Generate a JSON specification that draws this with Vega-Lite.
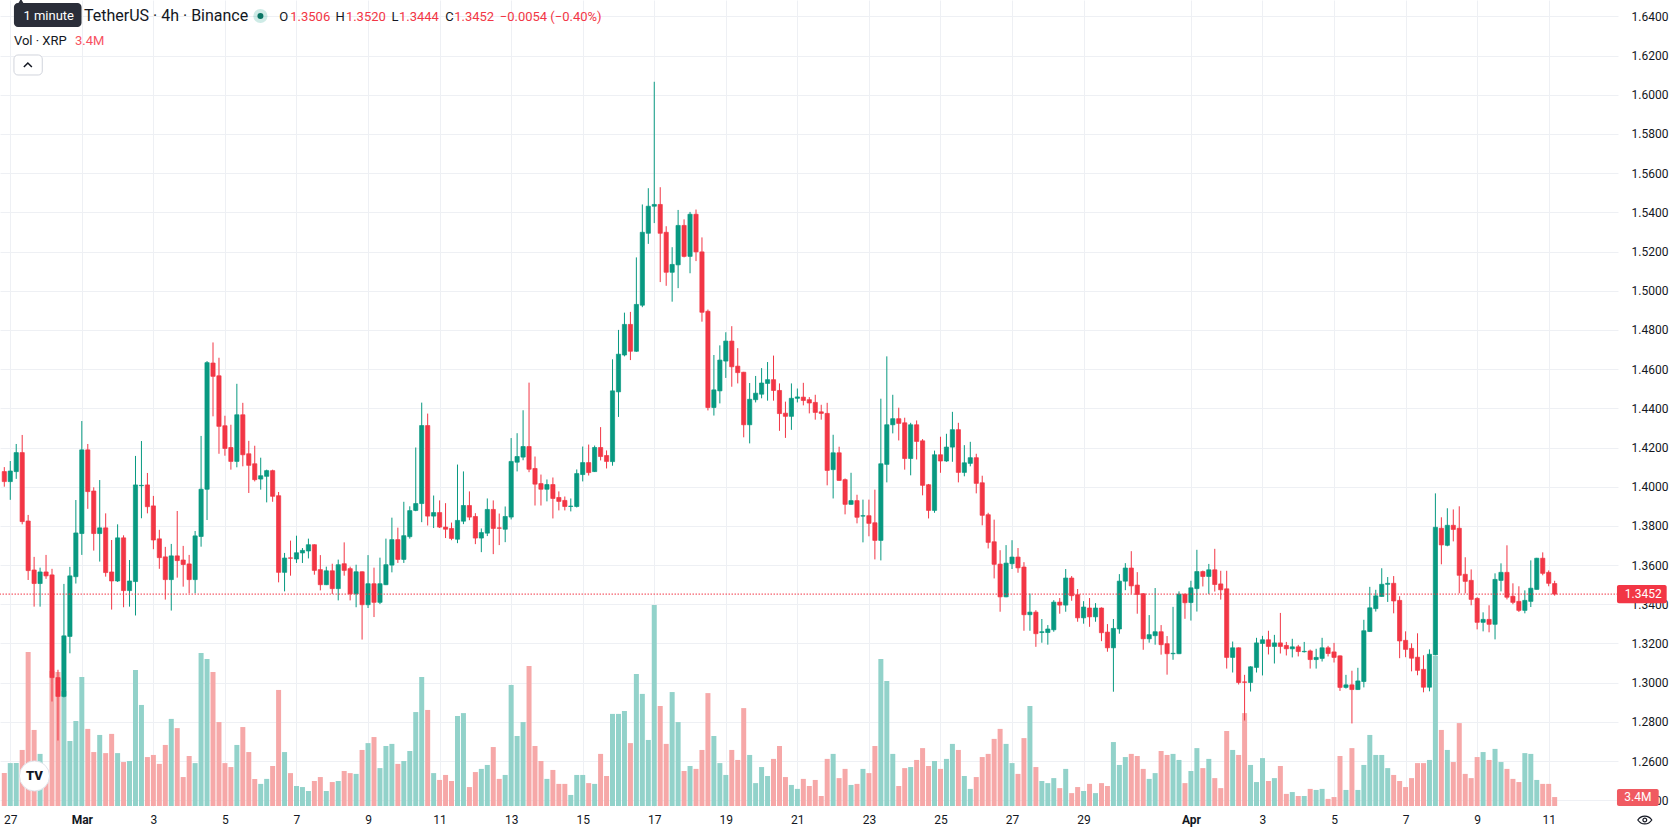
{
"$schema": "https://vega.github.io/schema/vega-lite/v6.json",
"width": 1618,
"height": 806,
"autosize": {"type": "none"},
"padding": {"left": 0, "top": 0, "right": 60, "bottom": 29},
"background": "#ffffff",
"config": {"view": {"stroke": null}, "font": "Roboto"},
"datasets": {"candles": [
{"t":"2026-02-26T20:00Z","o":1.4077,"h":1.4100,"l":1.4000,"c":1.4026,"v":12.5},
{"t":"2026-02-27T00:00Z","o":1.4026,"h":1.4131,"l":1.3933,"c":1.4080,"v":16.3},
{"t":"2026-02-27T04:00Z","o":1.4077,"h":1.4218,"l":1.4040,"c":1.4174,"v":16.3},
{"t":"2026-02-27T08:00Z","o":1.4174,"h":1.4264,"l":1.3808,"c":1.3822,"v":21.3},
{"t":"2026-02-27T12:00Z","o":1.3825,"h":1.3856,"l":1.3524,"c":1.3572,"v":58.5},
{"t":"2026-02-27T16:00Z","o":1.3575,"h":1.3642,"l":1.3388,"c":1.3506,"v":28.9},
{"t":"2026-02-27T20:00Z","o":1.3506,"h":1.3587,"l":1.3388,"c":1.3565,"v":19.8},
{"t":"2026-02-28T00:00Z","o":1.3565,"h":1.3652,"l":1.3530,"c":1.3545,"v":13.3},
{"t":"2026-02-28T04:00Z","o":1.3550,"h":1.3581,"l":1.2904,"c":1.3026,"v":51.3},
{"t":"2026-02-28T08:00Z","o":1.3026,"h":1.3066,"l":1.2705,"c":1.2930,"v":50.9},
{"t":"2026-02-28T12:00Z","o":1.2930,"h":1.3504,"l":1.2925,"c":1.3239,"v":43.7},
{"t":"2026-02-28T16:00Z","o":1.3236,"h":1.3591,"l":1.3150,"c":1.3545,"v":24.7},
{"t":"2026-02-28T20:00Z","o":1.3541,"h":1.3932,"l":1.3506,"c":1.3764,"v":32.3},
{"t":"2026-03-01T00:00Z","o":1.3761,"h":1.4335,"l":1.3652,"c":1.4188,"v":49.0},
{"t":"2026-03-01T04:00Z","o":1.4188,"h":1.4218,"l":1.3887,"c":1.3975,"v":29.3},
{"t":"2026-03-01T08:00Z","o":1.3978,"h":1.3997,"l":1.3674,"c":1.3761,"v":20.5},
{"t":"2026-03-01T12:00Z","o":1.3761,"h":1.4034,"l":1.3618,"c":1.3790,"v":27.0},
{"t":"2026-03-01T16:00Z","o":1.3790,"h":1.3864,"l":1.3541,"c":1.3562,"v":20.1},
{"t":"2026-03-01T20:00Z","o":1.3565,"h":1.3728,"l":1.3373,"c":1.3519,"v":27.4},
{"t":"2026-03-02T00:00Z","o":1.3519,"h":1.3808,"l":1.3514,"c":1.3739,"v":20.1},
{"t":"2026-03-02T04:00Z","o":1.3739,"h":1.3752,"l":1.3385,"c":1.3470,"v":16.7},
{"t":"2026-03-02T08:00Z","o":1.3470,"h":1.3626,"l":1.3388,"c":1.3519,"v":17.1},
{"t":"2026-03-02T12:00Z","o":1.3516,"h":1.4157,"l":1.3343,"c":1.4009,"v":51.7},
{"t":"2026-03-02T16:00Z","o":1.4005,"h":1.4233,"l":1.3839,"c":1.4007,"v":38.4},
{"t":"2026-03-02T20:00Z","o":1.4009,"h":1.4070,"l":1.3864,"c":1.3898,"v":18.6},
{"t":"2026-03-03T00:00Z","o":1.3902,"h":1.3953,"l":1.3681,"c":1.3728,"v":19.4},
{"t":"2026-03-03T04:00Z","o":1.3734,"h":1.3780,"l":1.3581,"c":1.3638,"v":16.0},
{"t":"2026-03-03T08:00Z","o":1.3642,"h":1.3693,"l":1.3424,"c":1.3526,"v":23.2},
{"t":"2026-03-03T12:00Z","o":1.3526,"h":1.3708,"l":1.3368,"c":1.3647,"v":33.1},
{"t":"2026-03-03T16:00Z","o":1.3647,"h":1.3876,"l":1.3536,"c":1.3623,"v":29.6},
{"t":"2026-03-03T20:00Z","o":1.3626,"h":1.3698,"l":1.3490,"c":1.3603,"v":11.0},
{"t":"2026-03-04T00:00Z","o":1.3606,"h":1.3652,"l":1.3456,"c":1.3526,"v":19.0},
{"t":"2026-03-04T04:00Z","o":1.3526,"h":1.3774,"l":1.3456,"c":1.3749,"v":16.3},
{"t":"2026-03-04T08:00Z","o":1.3746,"h":1.4259,"l":1.3694,"c":1.3987,"v":58.1},
{"t":"2026-03-04T12:00Z","o":1.3987,"h":1.4641,"l":1.3830,"c":1.4633,"v":55.9},
{"t":"2026-03-04T16:00Z","o":1.4631,"h":1.4736,"l":1.4359,"c":1.4563,"v":50.9},
{"t":"2026-03-04T20:00Z","o":1.4566,"h":1.4658,"l":1.4168,"c":1.4308,"v":31.9},
{"t":"2026-03-05T00:00Z","o":1.4311,"h":1.4362,"l":1.4158,"c":1.4195,"v":16.3},
{"t":"2026-03-05T04:00Z","o":1.4200,"h":1.4316,"l":1.4087,"c":1.4129,"v":14.8},
{"t":"2026-03-05T08:00Z","o":1.4129,"h":1.4525,"l":1.4099,"c":1.4367,"v":23.2},
{"t":"2026-03-05T12:00Z","o":1.4367,"h":1.4428,"l":1.4104,"c":1.4163,"v":30.0},
{"t":"2026-03-05T16:00Z","o":1.4168,"h":1.4234,"l":1.3968,"c":1.4109,"v":20.5},
{"t":"2026-03-05T20:00Z","o":1.4117,"h":1.4209,"l":1.4027,"c":1.4036,"v":10.3},
{"t":"2026-03-06T00:00Z","o":1.4039,"h":1.4148,"l":1.3985,"c":1.4056,"v":8.4},
{"t":"2026-03-06T04:00Z","o":1.4053,"h":1.4087,"l":1.3920,"c":1.4082,"v":10.3},
{"t":"2026-03-06T08:00Z","o":1.4082,"h":1.4087,"l":1.3923,"c":1.3951,"v":15.2},
{"t":"2026-03-06T12:00Z","o":1.3954,"h":1.3973,"l":1.3512,"c":1.3563,"v":44.1},
{"t":"2026-03-06T16:00Z","o":1.3563,"h":1.3662,"l":1.3466,"c":1.3636,"v":20.5},
{"t":"2026-03-06T20:00Z","o":1.3637,"h":1.3725,"l":1.3546,"c":1.3635,"v":12.5},
{"t":"2026-03-07T00:00Z","o":1.3631,"h":1.3750,"l":1.3611,"c":1.3663,"v":7.6},
{"t":"2026-03-07T04:00Z","o":1.3662,"h":1.3687,"l":1.3611,"c":1.3675,"v":7.2},
{"t":"2026-03-07T08:00Z","o":1.3672,"h":1.3735,"l":1.3634,"c":1.3704,"v":5.7},
{"t":"2026-03-07T12:00Z","o":1.3704,"h":1.3706,"l":1.3551,"c":1.3573,"v":9.5},
{"t":"2026-03-07T16:00Z","o":1.3577,"h":1.3651,"l":1.3471,"c":1.3500,"v":11.0},
{"t":"2026-03-07T20:00Z","o":1.3500,"h":1.3592,"l":1.3498,"c":1.3571,"v":5.7},
{"t":"2026-03-08T00:00Z","o":1.3571,"h":1.3607,"l":1.3453,"c":1.3480,"v":9.1},
{"t":"2026-03-08T04:00Z","o":1.3480,"h":1.3628,"l":1.3420,"c":1.3602,"v":9.5},
{"t":"2026-03-08T08:00Z","o":1.3607,"h":1.3716,"l":1.3546,"c":1.3573,"v":13.3},
{"t":"2026-03-08T12:00Z","o":1.3582,"h":1.3592,"l":1.3420,"c":1.3453,"v":12.5},
{"t":"2026-03-08T16:00Z","o":1.3453,"h":1.3602,"l":1.3385,"c":1.3566,"v":12.2},
{"t":"2026-03-08T20:00Z","o":1.3566,"h":1.3568,"l":1.3220,"c":1.3398,"v":21.3},
{"t":"2026-03-09T00:00Z","o":1.3398,"h":1.3651,"l":1.3381,"c":1.3505,"v":23.9},
{"t":"2026-03-09T04:00Z","o":1.3505,"h":1.3587,"l":1.3335,"c":1.3410,"v":26.2},
{"t":"2026-03-09T08:00Z","o":1.3410,"h":1.3638,"l":1.3401,"c":1.3505,"v":14.4},
{"t":"2026-03-09T12:00Z","o":1.3500,"h":1.3735,"l":1.3498,"c":1.3602,"v":22.8},
{"t":"2026-03-09T16:00Z","o":1.3600,"h":1.3842,"l":1.3563,"c":1.3730,"v":23.6},
{"t":"2026-03-09T20:00Z","o":1.3730,"h":1.3791,"l":1.3611,"c":1.3629,"v":16.0},
{"t":"2026-03-10T00:00Z","o":1.3629,"h":1.3923,"l":1.3611,"c":1.3750,"v":17.1},
{"t":"2026-03-10T04:00Z","o":1.3745,"h":1.3900,"l":1.3735,"c":1.3878,"v":20.9},
{"t":"2026-03-10T08:00Z","o":1.3879,"h":1.4200,"l":1.3875,"c":1.3914,"v":35.7},
{"t":"2026-03-10T12:00Z","o":1.3914,"h":1.4429,"l":1.3819,"c":1.4312,"v":49.0},
{"t":"2026-03-10T16:00Z","o":1.4312,"h":1.4373,"l":1.3802,"c":1.3850,"v":36.5},
{"t":"2026-03-10T20:00Z","o":1.3850,"h":1.3955,"l":1.3789,"c":1.3868,"v":12.5},
{"t":"2026-03-11T00:00Z","o":1.3868,"h":1.3930,"l":1.3789,"c":1.3794,"v":9.9},
{"t":"2026-03-11T04:00Z","o":1.3794,"h":1.3916,"l":1.3738,"c":1.3783,"v":11.8},
{"t":"2026-03-11T08:00Z","o":1.3787,"h":1.3817,"l":1.3727,"c":1.3736,"v":9.5},
{"t":"2026-03-11T12:00Z","o":1.3732,"h":1.4113,"l":1.3712,"c":1.3828,"v":34.2},
{"t":"2026-03-11T16:00Z","o":1.3824,"h":1.4078,"l":1.3809,"c":1.3904,"v":35.3},
{"t":"2026-03-11T20:00Z","o":1.3904,"h":1.3976,"l":1.3829,"c":1.3845,"v":7.2},
{"t":"2026-03-12T00:00Z","o":1.3848,"h":1.3865,"l":1.3707,"c":1.3738,"v":12.9},
{"t":"2026-03-12T04:00Z","o":1.3738,"h":1.3787,"l":1.3666,"c":1.3766,"v":14.1},
{"t":"2026-03-12T08:00Z","o":1.3763,"h":1.3940,"l":1.3748,"c":1.3884,"v":15.6},
{"t":"2026-03-12T12:00Z","o":1.3884,"h":1.3930,"l":1.3656,"c":1.3787,"v":22.4},
{"t":"2026-03-12T16:00Z","o":1.3790,"h":1.3863,"l":1.3702,"c":1.3788,"v":10.3},
{"t":"2026-03-12T20:00Z","o":1.3783,"h":1.3899,"l":1.3717,"c":1.3848,"v":11.8},
{"t":"2026-03-13T00:00Z","o":1.3845,"h":1.4248,"l":1.3833,"c":1.4129,"v":46.0},
{"t":"2026-03-13T04:00Z","o":1.4125,"h":1.4273,"l":1.4078,"c":1.4154,"v":26.6},
{"t":"2026-03-13T08:00Z","o":1.4151,"h":1.4390,"l":1.4135,"c":1.4205,"v":31.9},
{"t":"2026-03-13T12:00Z","o":1.4205,"h":1.4531,"l":1.4074,"c":1.4089,"v":53.2},
{"t":"2026-03-13T16:00Z","o":1.4093,"h":1.4154,"l":1.3904,"c":1.4013,"v":22.8},
{"t":"2026-03-13T20:00Z","o":1.4016,"h":1.4062,"l":1.3904,"c":1.3987,"v":17.1},
{"t":"2026-03-14T00:00Z","o":1.3987,"h":1.4037,"l":1.3925,"c":1.4011,"v":10.3},
{"t":"2026-03-14T04:00Z","o":1.4011,"h":1.4047,"l":1.3838,"c":1.3940,"v":13.7},
{"t":"2026-03-14T08:00Z","o":1.3945,"h":1.3976,"l":1.3879,"c":1.3925,"v":8.4},
{"t":"2026-03-14T12:00Z","o":1.3930,"h":1.3950,"l":1.3879,"c":1.3899,"v":8.4},
{"t":"2026-03-14T16:00Z","o":1.3899,"h":1.3940,"l":1.3874,"c":1.3901,"v":4.2},
{"t":"2026-03-14T20:00Z","o":1.3899,"h":1.4088,"l":1.3894,"c":1.4067,"v":11.8},
{"t":"2026-03-15T00:00Z","o":1.4062,"h":1.4205,"l":1.4027,"c":1.4123,"v":11.8},
{"t":"2026-03-15T04:00Z","o":1.4123,"h":1.4215,"l":1.4057,"c":1.4072,"v":8.7},
{"t":"2026-03-15T08:00Z","o":1.4077,"h":1.4210,"l":1.4075,"c":1.4200,"v":8.4},
{"t":"2026-03-15T12:00Z","o":1.4200,"h":1.4304,"l":1.4134,"c":1.4154,"v":19.8},
{"t":"2026-03-15T16:00Z","o":1.4159,"h":1.4185,"l":1.4093,"c":1.4129,"v":11.4},
{"t":"2026-03-15T20:00Z","o":1.4128,"h":1.4650,"l":1.4107,"c":1.4489,"v":35.0},
{"t":"2026-03-16T00:00Z","o":1.4484,"h":1.4800,"l":1.4356,"c":1.4676,"v":35.0},
{"t":"2026-03-16T04:00Z","o":1.4672,"h":1.4888,"l":1.4665,"c":1.4828,"v":36.1},
{"t":"2026-03-16T08:00Z","o":1.4828,"h":1.4892,"l":1.4646,"c":1.4691,"v":23.9},
{"t":"2026-03-16T12:00Z","o":1.4691,"h":1.5170,"l":1.4688,"c":1.4930,"v":50.2},
{"t":"2026-03-16T16:00Z","o":1.4926,"h":1.5440,"l":1.4916,"c":1.5298,"v":42.6},
{"t":"2026-03-16T20:00Z","o":1.5293,"h":1.5523,"l":1.5239,"c":1.5431,"v":25.1},
{"t":"2026-03-17T00:00Z","o":1.5431,"h":1.6066,"l":1.5345,"c":1.5440,"v":76.4},
{"t":"2026-03-17T04:00Z","o":1.5440,"h":1.5528,"l":1.5044,"c":1.5293,"v":38.0},
{"t":"2026-03-17T08:00Z","o":1.5298,"h":1.5329,"l":1.5025,"c":1.5094,"v":23.6},
{"t":"2026-03-17T12:00Z","o":1.5094,"h":1.5222,"l":1.4944,"c":1.5134,"v":43.3},
{"t":"2026-03-17T16:00Z","o":1.5132,"h":1.5412,"l":1.5013,"c":1.5333,"v":31.9},
{"t":"2026-03-17T20:00Z","o":1.5333,"h":1.5364,"l":1.5170,"c":1.5175,"v":13.3},
{"t":"2026-03-18T00:00Z","o":1.5175,"h":1.5402,"l":1.5089,"c":1.5390,"v":15.2},
{"t":"2026-03-18T04:00Z","o":1.5390,"h":1.5414,"l":1.5151,"c":1.5198,"v":14.1},
{"t":"2026-03-18T08:00Z","o":1.5198,"h":1.5272,"l":1.4842,"c":1.4890,"v":21.3},
{"t":"2026-03-18T12:00Z","o":1.4895,"h":1.4904,"l":1.4389,"c":1.4404,"v":42.9},
{"t":"2026-03-18T16:00Z","o":1.4404,"h":1.4672,"l":1.4363,"c":1.4494,"v":26.6},
{"t":"2026-03-18T20:00Z","o":1.4489,"h":1.4721,"l":1.4425,"c":1.4646,"v":16.3},
{"t":"2026-03-19T00:00Z","o":1.4641,"h":1.4788,"l":1.4555,"c":1.4743,"v":11.8},
{"t":"2026-03-19T04:00Z","o":1.4743,"h":1.4819,"l":1.4510,"c":1.4612,"v":21.3},
{"t":"2026-03-19T08:00Z","o":1.4615,"h":1.4707,"l":1.4527,"c":1.4582,"v":17.5},
{"t":"2026-03-19T12:00Z","o":1.4584,"h":1.4586,"l":1.4252,"c":1.4316,"v":37.2},
{"t":"2026-03-19T16:00Z","o":1.4316,"h":1.4529,"l":1.4221,"c":1.4446,"v":19.4},
{"t":"2026-03-19T20:00Z","o":1.4444,"h":1.4565,"l":1.4430,"c":1.4477,"v":8.7},
{"t":"2026-03-20T00:00Z","o":1.4472,"h":1.4605,"l":1.4451,"c":1.4529,"v":14.8},
{"t":"2026-03-20T04:00Z","o":1.4527,"h":1.4636,"l":1.4439,"c":1.4546,"v":11.4},
{"t":"2026-03-20T08:00Z","o":1.4546,"h":1.4669,"l":1.4439,"c":1.4491,"v":17.9},
{"t":"2026-03-20T12:00Z","o":1.4491,"h":1.4527,"l":1.4285,"c":1.4373,"v":22.8},
{"t":"2026-03-20T16:00Z","o":1.4375,"h":1.4434,"l":1.4249,"c":1.4359,"v":11.0},
{"t":"2026-03-20T20:00Z","o":1.4359,"h":1.4527,"l":1.4290,"c":1.4451,"v":8.0},
{"t":"2026-03-21T00:00Z","o":1.4451,"h":1.4501,"l":1.4430,"c":1.4458,"v":6.5},
{"t":"2026-03-21T04:00Z","o":1.4457,"h":1.4530,"l":1.4415,"c":1.4440,"v":10.3},
{"t":"2026-03-21T08:00Z","o":1.4444,"h":1.4457,"l":1.4374,"c":1.4427,"v":7.6},
{"t":"2026-03-21T12:00Z","o":1.4430,"h":1.4469,"l":1.4342,"c":1.4379,"v":9.9},
{"t":"2026-03-21T16:00Z","o":1.4382,"h":1.4418,"l":1.4342,"c":1.4374,"v":3.8},
{"t":"2026-03-21T20:00Z","o":1.4374,"h":1.4428,"l":1.4007,"c":1.4083,"v":17.9},
{"t":"2026-03-22T00:00Z","o":1.4087,"h":1.4265,"l":1.3940,"c":1.4173,"v":19.8},
{"t":"2026-03-22T04:00Z","o":1.4173,"h":1.4204,"l":1.4030,"c":1.4032,"v":10.6},
{"t":"2026-03-22T08:00Z","o":1.4036,"h":1.4042,"l":1.3859,"c":1.3910,"v":14.1},
{"t":"2026-03-22T12:00Z","o":1.3910,"h":1.4071,"l":1.3908,"c":1.3929,"v":8.0},
{"t":"2026-03-22T16:00Z","o":1.3929,"h":1.3959,"l":1.3813,"c":1.3844,"v":8.4},
{"t":"2026-03-22T20:00Z","o":1.3850,"h":1.3934,"l":1.3716,"c":1.3852,"v":14.1},
{"t":"2026-03-23T00:00Z","o":1.3852,"h":1.3934,"l":1.3747,"c":1.3813,"v":12.5},
{"t":"2026-03-23T04:00Z","o":1.3816,"h":1.3985,"l":1.3629,"c":1.3726,"v":22.8},
{"t":"2026-03-23T08:00Z","o":1.3726,"h":1.4449,"l":1.3624,"c":1.4117,"v":55.9},
{"t":"2026-03-23T12:00Z","o":1.4114,"h":1.4665,"l":1.4022,"c":1.4316,"v":47.5},
{"t":"2026-03-23T16:00Z","o":1.4316,"h":1.4469,"l":1.4272,"c":1.4347,"v":19.8},
{"t":"2026-03-23T20:00Z","o":1.4347,"h":1.4403,"l":1.4236,"c":1.4323,"v":7.6},
{"t":"2026-03-24T00:00Z","o":1.4326,"h":1.4352,"l":1.4087,"c":1.4144,"v":14.4},
{"t":"2026-03-24T04:00Z","o":1.4144,"h":1.4326,"l":1.4058,"c":1.4316,"v":14.8},
{"t":"2026-03-24T08:00Z","o":1.4316,"h":1.4338,"l":1.4139,"c":1.4231,"v":17.5},
{"t":"2026-03-24T12:00Z","o":1.4234,"h":1.4243,"l":1.3956,"c":1.4007,"v":22.0},
{"t":"2026-03-24T16:00Z","o":1.4010,"h":1.4014,"l":1.3838,"c":1.3879,"v":15.2},
{"t":"2026-03-24T20:00Z","o":1.3879,"h":1.4184,"l":1.3867,"c":1.4163,"v":17.1},
{"t":"2026-03-25T00:00Z","o":1.4163,"h":1.4255,"l":1.4071,"c":1.4131,"v":14.1},
{"t":"2026-03-25T04:00Z","o":1.4131,"h":1.4270,"l":1.4127,"c":1.4202,"v":17.9},
{"t":"2026-03-25T08:00Z","o":1.4202,"h":1.4382,"l":1.4127,"c":1.4291,"v":23.6},
{"t":"2026-03-25T12:00Z","o":1.4291,"h":1.4326,"l":1.4022,"c":1.4073,"v":21.3},
{"t":"2026-03-25T16:00Z","o":1.4073,"h":1.4212,"l":1.4053,"c":1.4122,"v":11.4},
{"t":"2026-03-25T20:00Z","o":1.4119,"h":1.4229,"l":1.4104,"c":1.4148,"v":6.5},
{"t":"2026-03-26T00:00Z","o":1.4148,"h":1.4168,"l":1.3966,"c":1.4017,"v":11.0},
{"t":"2026-03-26T04:00Z","o":1.4020,"h":1.4056,"l":1.3803,"c":1.3854,"v":18.6},
{"t":"2026-03-26T08:00Z","o":1.3857,"h":1.3867,"l":1.3685,"c":1.3716,"v":19.8},
{"t":"2026-03-26T12:00Z","o":1.3719,"h":1.3832,"l":1.3532,"c":1.3604,"v":25.5},
{"t":"2026-03-26T16:00Z","o":1.3605,"h":1.3676,"l":1.3362,"c":1.3438,"v":29.3},
{"t":"2026-03-26T20:00Z","o":1.3438,"h":1.3702,"l":1.3436,"c":1.3610,"v":23.6},
{"t":"2026-03-27T00:00Z","o":1.3607,"h":1.3727,"l":1.3580,"c":1.3641,"v":16.3},
{"t":"2026-03-27T04:00Z","o":1.3641,"h":1.3687,"l":1.3561,"c":1.3586,"v":12.2},
{"t":"2026-03-27T08:00Z","o":1.3590,"h":1.3615,"l":1.3265,"c":1.3347,"v":25.8},
{"t":"2026-03-27T12:00Z","o":1.3347,"h":1.3455,"l":1.3265,"c":1.3360,"v":38.0},
{"t":"2026-03-27T16:00Z","o":1.3360,"h":1.3370,"l":1.3183,"c":1.3250,"v":14.8},
{"t":"2026-03-27T20:00Z","o":1.3256,"h":1.3325,"l":1.3204,"c":1.3260,"v":9.5},
{"t":"2026-03-28T00:00Z","o":1.3256,"h":1.3294,"l":1.3194,"c":1.3274,"v":8.7},
{"t":"2026-03-28T04:00Z","o":1.3270,"h":1.3421,"l":1.3260,"c":1.3411,"v":10.6},
{"t":"2026-03-28T08:00Z","o":1.3411,"h":1.3432,"l":1.3352,"c":1.3396,"v":6.8},
{"t":"2026-03-28T12:00Z","o":1.3396,"h":1.3580,"l":1.3362,"c":1.3534,"v":14.1},
{"t":"2026-03-28T16:00Z","o":1.3534,"h":1.3544,"l":1.3418,"c":1.3444,"v":4.9},
{"t":"2026-03-28T20:00Z","o":1.3449,"h":1.3478,"l":1.3311,"c":1.3331,"v":7.2},
{"t":"2026-03-29T00:00Z","o":1.3331,"h":1.3416,"l":1.3301,"c":1.3386,"v":5.7},
{"t":"2026-03-29T04:00Z","o":1.3381,"h":1.3432,"l":1.3285,"c":1.3336,"v":8.4},
{"t":"2026-03-29T08:00Z","o":1.3336,"h":1.3406,"l":1.3311,"c":1.3381,"v":4.9},
{"t":"2026-03-29T12:00Z","o":1.3381,"h":1.3384,"l":1.3212,"c":1.3255,"v":8.7},
{"t":"2026-03-29T16:00Z","o":1.3258,"h":1.3299,"l":1.3158,"c":1.3178,"v":7.6},
{"t":"2026-03-29T20:00Z","o":1.3178,"h":1.3325,"l":1.2954,"c":1.3277,"v":24.3},
{"t":"2026-03-30T00:00Z","o":1.3274,"h":1.3554,"l":1.3250,"c":1.3518,"v":15.6},
{"t":"2026-03-30T04:00Z","o":1.3518,"h":1.3610,"l":1.3472,"c":1.3585,"v":18.6},
{"t":"2026-03-30T08:00Z","o":1.3585,"h":1.3671,"l":1.3454,"c":1.3494,"v":19.8},
{"t":"2026-03-30T12:00Z","o":1.3498,"h":1.3564,"l":1.3352,"c":1.3450,"v":19.0},
{"t":"2026-03-30T16:00Z","o":1.3454,"h":1.3456,"l":1.3168,"c":1.3224,"v":14.1},
{"t":"2026-03-30T20:00Z","o":1.3224,"h":1.3345,"l":1.3204,"c":1.3245,"v":10.3},
{"t":"2026-03-31T00:00Z","o":1.3240,"h":1.3483,"l":1.3194,"c":1.3260,"v":12.5},
{"t":"2026-03-31T04:00Z","o":1.3260,"h":1.3294,"l":1.3143,"c":1.3194,"v":20.9},
{"t":"2026-03-31T08:00Z","o":1.3199,"h":1.3238,"l":1.3041,"c":1.3148,"v":19.4},
{"t":"2026-03-31T12:00Z","o":1.3148,"h":1.3387,"l":1.3117,"c":1.3150,"v":19.8},
{"t":"2026-03-31T16:00Z","o":1.3148,"h":1.3466,"l":1.3146,"c":1.3452,"v":17.5},
{"t":"2026-03-31T20:00Z","o":1.3452,"h":1.3454,"l":1.3326,"c":1.3408,"v":8.7},
{"t":"2026-04-01T00:00Z","o":1.3409,"h":1.3520,"l":1.3317,"c":1.3484,"v":13.3},
{"t":"2026-04-01T04:00Z","o":1.3480,"h":1.3678,"l":1.3363,"c":1.3567,"v":22.0},
{"t":"2026-04-01T08:00Z","o":1.3567,"h":1.3572,"l":1.3491,"c":1.3542,"v":14.4},
{"t":"2026-04-01T12:00Z","o":1.3542,"h":1.3606,"l":1.3453,"c":1.3576,"v":17.9},
{"t":"2026-04-01T16:00Z","o":1.3576,"h":1.3683,"l":1.3465,"c":1.3501,"v":10.6},
{"t":"2026-04-01T20:00Z","o":1.3504,"h":1.3571,"l":1.3424,"c":1.3474,"v":6.8},
{"t":"2026-04-02T00:00Z","o":1.3479,"h":1.3571,"l":1.3072,"c":1.3129,"v":28.5},
{"t":"2026-04-02T04:00Z","o":1.3129,"h":1.3210,"l":1.3052,"c":1.3178,"v":21.3},
{"t":"2026-04-02T08:00Z","o":1.3178,"h":1.3180,"l":1.2991,"c":1.3001,"v":19.4},
{"t":"2026-04-02T12:00Z","o":1.3004,"h":1.3040,"l":1.2807,"c":1.3002,"v":35.3},
{"t":"2026-04-02T16:00Z","o":1.3001,"h":1.3084,"l":1.2955,"c":1.3081,"v":15.6},
{"t":"2026-04-02T20:00Z","o":1.3078,"h":1.3229,"l":1.3052,"c":1.3203,"v":9.1},
{"t":"2026-04-03T00:00Z","o":1.3200,"h":1.3239,"l":1.3037,"c":1.3219,"v":18.2},
{"t":"2026-04-03T04:00Z","o":1.3219,"h":1.3265,"l":1.3144,"c":1.3185,"v":9.5},
{"t":"2026-04-03T08:00Z","o":1.3185,"h":1.3244,"l":1.3098,"c":1.3203,"v":10.6},
{"t":"2026-04-03T12:00Z","o":1.3203,"h":1.3356,"l":1.3149,"c":1.3185,"v":15.2},
{"t":"2026-04-03T16:00Z","o":1.3190,"h":1.3208,"l":1.3139,"c":1.3173,"v":4.6},
{"t":"2026-04-03T20:00Z","o":1.3173,"h":1.3224,"l":1.3129,"c":1.3183,"v":5.3},
{"t":"2026-04-04T00:00Z","o":1.3183,"h":1.3193,"l":1.3134,"c":1.3159,"v":3.8},
{"t":"2026-04-04T04:00Z","o":1.3158,"h":1.3208,"l":1.3154,"c":1.3160,"v":3.8},
{"t":"2026-04-04T08:00Z","o":1.3162,"h":1.3169,"l":1.3072,"c":1.3118,"v":6.5},
{"t":"2026-04-04T12:00Z","o":1.3118,"h":1.3173,"l":1.3072,"c":1.3129,"v":6.1},
{"t":"2026-04-04T16:00Z","o":1.3124,"h":1.3229,"l":1.3108,"c":1.3178,"v":6.5},
{"t":"2026-04-04T20:00Z","o":1.3178,"h":1.3188,"l":1.3134,"c":1.3149,"v":2.7},
{"t":"2026-04-05T00:00Z","o":1.3157,"h":1.3203,"l":1.3103,"c":1.3129,"v":3.4},
{"t":"2026-04-05T04:00Z","o":1.3137,"h":1.3139,"l":1.2958,"c":1.2976,"v":19.0},
{"t":"2026-04-05T08:00Z","o":1.2976,"h":1.3040,"l":1.2970,"c":1.2989,"v":6.1},
{"t":"2026-04-05T12:00Z","o":1.2989,"h":1.3061,"l":1.2792,"c":1.2965,"v":22.0},
{"t":"2026-04-05T16:00Z","o":1.2965,"h":1.3076,"l":1.2963,"c":1.3009,"v":6.1},
{"t":"2026-04-05T20:00Z","o":1.3006,"h":1.3321,"l":1.2976,"c":1.3265,"v":15.6},
{"t":"2026-04-06T00:00Z","o":1.3261,"h":1.3489,"l":1.3259,"c":1.3382,"v":27.0},
{"t":"2026-04-06T04:00Z","o":1.3378,"h":1.3474,"l":1.3363,"c":1.3443,"v":19.4},
{"t":"2026-04-06T08:00Z","o":1.3440,"h":1.3584,"l":1.3438,"c":1.3502,"v":19.4},
{"t":"2026-04-06T12:00Z","o":1.3502,"h":1.3539,"l":1.3412,"c":1.3507,"v":14.4},
{"t":"2026-04-06T16:00Z","o":1.3507,"h":1.3544,"l":1.3354,"c":1.3417,"v":11.8},
{"t":"2026-04-06T20:00Z","o":1.3420,"h":1.3441,"l":1.3125,"c":1.3213,"v":9.5},
{"t":"2026-04-07T00:00Z","o":1.3216,"h":1.3262,"l":1.3130,"c":1.3170,"v":7.2},
{"t":"2026-04-07T04:00Z","o":1.3175,"h":1.3201,"l":1.3058,"c":1.3125,"v":10.6},
{"t":"2026-04-07T08:00Z","o":1.3130,"h":1.3252,"l":1.3038,"c":1.3063,"v":16.3},
{"t":"2026-04-07T12:00Z","o":1.3068,"h":1.3140,"l":1.2951,"c":1.2977,"v":16.3},
{"t":"2026-04-07T16:00Z","o":1.2977,"h":1.3170,"l":1.2956,"c":1.3145,"v":17.5},
{"t":"2026-04-07T20:00Z","o":1.3142,"h":1.3966,"l":1.3140,"c":1.3793,"v":57.0},
{"t":"2026-04-08T00:00Z","o":1.3788,"h":1.3844,"l":1.3604,"c":1.3703,"v":28.9},
{"t":"2026-04-08T04:00Z","o":1.3701,"h":1.3890,"l":1.3696,"c":1.3803,"v":21.3},
{"t":"2026-04-08T08:00Z","o":1.3803,"h":1.3884,"l":1.3721,"c":1.3782,"v":16.7},
{"t":"2026-04-08T12:00Z","o":1.3788,"h":1.3900,"l":1.3456,"c":1.3548,"v":31.5},
{"t":"2026-04-08T16:00Z","o":1.3553,"h":1.3640,"l":1.3456,"c":1.3517,"v":12.2},
{"t":"2026-04-08T20:00Z","o":1.3522,"h":1.3578,"l":1.3395,"c":1.3425,"v":10.6},
{"t":"2026-04-09T00:00Z","o":1.3430,"h":1.3436,"l":1.3272,"c":1.3308,"v":18.6},
{"t":"2026-04-09T04:00Z","o":1.3308,"h":1.3359,"l":1.3262,"c":1.3323,"v":20.5},
{"t":"2026-04-09T08:00Z","o":1.3323,"h":1.3395,"l":1.3257,"c":1.3298,"v":17.5},
{"t":"2026-04-09T12:00Z","o":1.3298,"h":1.3558,"l":1.3221,"c":1.3527,"v":21.7},
{"t":"2026-04-09T16:00Z","o":1.3522,"h":1.3609,"l":1.3466,"c":1.3563,"v":16.7},
{"t":"2026-04-09T20:00Z","o":1.3563,"h":1.3701,"l":1.3425,"c":1.3436,"v":14.1},
{"t":"2026-04-10T00:00Z","o":1.3441,"h":1.3507,"l":1.3400,"c":1.3410,"v":10.3},
{"t":"2026-04-10T04:00Z","o":1.3415,"h":1.3492,"l":1.3361,"c":1.3369,"v":9.1},
{"t":"2026-04-10T08:00Z","o":1.3369,"h":1.3471,"l":1.3354,"c":1.3420,"v":20.1},
{"t":"2026-04-10T12:00Z","o":1.3415,"h":1.3624,"l":1.3386,"c":1.3482,"v":19.8},
{"t":"2026-04-10T16:00Z","o":1.3476,"h":1.3637,"l":1.3476,"c":1.3635,"v":9.9},
{"t":"2026-04-10T20:00Z","o":1.3635,"h":1.3665,"l":1.3548,"c":1.3558,"v":8.4},
{"t":"2026-04-11T00:00Z","o":1.3563,"h":1.3573,"l":1.3492,"c":1.3507,"v":8.4},
{"t":"2026-04-11T04:00Z","o":1.3506,"h":1.3520,"l":1.3444,"c":1.3452,"v":3.4}
]},
"layer": [
{
"data": {"name": "candles"},
"mark": {"type": "bar", "size": 5, "clip": true},
"encoding": {
"x": {"field": "t", "type": "temporal", "title": null,
"scale": {"type": "utc", "domain": [1772137680000, 1776020880000], "nice": false},
"axis": {"values": [1772150400000, 1772323200000, 1772496000000, 1772668800000, 1772841600000, 1773014400000, 1773187200000, 1773360000000, 1773532800000, 1773705600000, 1773878400000, 1774051200000, 1774224000000, 1774396800000, 1774569600000, 1774742400000, 1775001600000, 1775174400000, 1775347200000, 1775520000000, 1775692800000, 1775865600000],
"labelExpr": "utcdate(datum.value) == 1 ? utcFormat(datum.value, '%b') : utcFormat(datum.value, '%-d')",
"title": null, "grid": true, "gridColor": "#eef0f4", "gridWidth": 1, "ticks": false, "tickSize": 0, "domain": false,
"labelFontSize": 12, "labelColor": "#131722", "labelPadding": 8, "labelFlush": false, "labelOverlap": false, "labelBound": false,
"labelFontWeight": {"condition": {"test": "utcdate(datum.value) == 1", "value": "bold"}, "value": "normal"}}},
"y": {"field": "v", "type": "quantitative", "title": null, "scale": {"domain": [0, 306.28], "nice": false}, "axis": null},
"color": {"condition": {"test": "datum.c >= datum.o", "value": "#92d2ca"}, "value": "#f6a8a8"}
}
},
{
"layer": [
{
"data": {"name": "candles"},
"mark": {"type": "rule", "strokeWidth": 1, "clip": true},
"encoding": {
"x": {"field": "t", "type": "temporal", "title": null},
"y": {"field": "l", "type": "quantitative", "title": null,
"scale": {"domain": [1.23709, 1.64832], "nice": false, "zero": false},
"axis": {"orient": "right", "values": [1.24, 1.26, 1.28, 1.30, 1.32, 1.34, 1.36, 1.38, 1.40, 1.42, 1.44, 1.46, 1.48, 1.50, 1.52, 1.54, 1.56, 1.58, 1.60, 1.62, 1.64],
"format": ".4f", "title": null, "grid": true, "gridColor": "#eef0f4", "gridWidth": 1, "ticks": false, "tickSize": 0, "domain": false,
"labelPadding": 13, "labelFontSize": 12, "labelColor": "#131722", "labelBound": false, "labelFlush": false, "labelOverlap": false}},
"y2": {"field": "h"},
"color": {"condition": {"test": "datum.c >= datum.o", "value": "#089981"}, "value": "#F23645"}
}
},
{
"data": {"name": "candles"},
"mark": {"type": "bar", "size": 4.2, "strokeWidth": 0.7, "clip": true},
"encoding": {
"x": {"field": "t", "type": "temporal", "title": null},
"y": {"field": "o", "type": "quantitative", "title": null},
"y2": {"field": "c"},
"color": {"condition": {"test": "datum.c >= datum.o", "value": "#089981"}, "value": "#F23645"},
"stroke": {"condition": {"test": "datum.c >= datum.o", "value": "#089981"}, "value": "#F23645"}
}
},
{
"data": {"values": [{}]},
"mark": {"type": "rule", "color": "#F23645", "strokeWidth": 1, "strokeDash": [1.5, 1.5]},
"encoding": {"y": {"datum": 1.3452}}
},
{
"data": {"values": [{}]},
"mark": {"type": "text", "text": "TetherUS · 4h · Binance", "align": "left", "baseline": "alphabetic", "fontSize": 16, "color": "#131722"},
"encoding": {"x": {"datum": 1772328480000, "type": "temporal"}, "y": {"datum": 1.63776}}
},
{
"data": {"values": [{}]},
"mark": {"type": "point", "shape": "circle", "filled": true, "size": 201, "color": "#089981", "opacity": 0.2},
"encoding": {"x": {"datum": 1772754480000, "type": "temporal"}, "y": {"datum": 1.64016}}
},
{
"data": {"values": [{}]},
"mark": {"type": "point", "shape": "circle", "filled": true, "size": 36, "color": "#0a7564", "opacity": 1},
"encoding": {"x": {"datum": 1772754480000, "type": "temporal"}, "y": {"datum": 1.64016}}
},
{
"data": {"values": [{}]},
"mark": {"type": "text", "text": "O", "align": "left", "baseline": "alphabetic", "fontSize": 13, "color": "#131722"},
"encoding": {"x": {"datum": 1772800080000, "type": "temporal"}, "y": {"datum": 1.63776}}
},
{
"data": {"values": [{}]},
"mark": {"type": "text", "text": "1.3506", "align": "left", "baseline": "alphabetic", "fontSize": 13, "color": "#F23645"},
"encoding": {"x": {"datum": 1772826480000, "type": "temporal"}, "y": {"datum": 1.63776}}
},
{
"data": {"values": [{}]},
"mark": {"type": "text", "text": "H", "align": "left", "baseline": "alphabetic", "fontSize": 13, "color": "#131722"},
"encoding": {"x": {"datum": 1772935920000, "type": "temporal"}, "y": {"datum": 1.63776}}
},
{
"data": {"values": [{}]},
"mark": {"type": "text", "text": "1.3520", "align": "left", "baseline": "alphabetic", "fontSize": 13, "color": "#F23645"},
"encoding": {"x": {"datum": 1772960880000, "type": "temporal"}, "y": {"datum": 1.63776}}
},
{
"data": {"values": [{}]},
"mark": {"type": "text", "text": "L", "align": "left", "baseline": "alphabetic", "fontSize": 13, "color": "#131722"},
"encoding": {"x": {"datum": 1773071280000, "type": "temporal"}, "y": {"datum": 1.63776}}
},
{
"data": {"values": [{}]},
"mark": {"type": "text", "text": "1.3444", "align": "left", "baseline": "alphabetic", "fontSize": 13, "color": "#F23645"},
"encoding": {"x": {"datum": 1773089040000, "type": "temporal"}, "y": {"datum": 1.63776}}
},
{
"data": {"values": [{}]},
"mark": {"type": "text", "text": "C", "align": "left", "baseline": "alphabetic", "fontSize": 13, "color": "#131722"},
"encoding": {"x": {"datum": 1773200880000, "type": "temporal"}, "y": {"datum": 1.63776}}
},
{
"data": {"values": [{}]},
"mark": {"type": "text", "text": "1.3452", "align": "left", "baseline": "alphabetic", "fontSize": 13, "color": "#F23645"},
"encoding": {"x": {"datum": 1773222480000, "type": "temporal"}, "y": {"datum": 1.63776}}
},
{
"data": {"values": [{}]},
"mark": {"type": "text", "text": "−0.0054 (−0.40%)", "align": "left", "baseline": "alphabetic", "fontSize": 13, "color": "#F23645"},
"encoding": {"x": {"datum": 1773332400000, "type": "temporal"}, "y": {"datum": 1.63776}}
},
{
"data": {"values": [{}]},
"mark": {"type": "text", "text": "Vol · XRP", "align": "left", "baseline": "alphabetic", "fontSize": 13, "color": "#131722"},
"encoding": {"x": {"datum": 1772159280000, "type": "temporal"}, "y": {"datum": 1.62536}}
},
{
"data": {"values": [{}]},
"mark": {"type": "text", "text": "3.4M", "align": "left", "baseline": "alphabetic", "fontSize": 13, "color": "#F7525F"},
"encoding": {"x": {"datum": 1772306880000, "type": "temporal"}, "y": {"datum": 1.62536}}
},
{
"data": {"values": [{}]},
"mark": {"type": "rect", "fill": "#ffffff", "stroke": "#d1d4dc", "strokeWidth": 1, "cornerRadius": 4},
"encoding": {"x": {"datum": 1772159280000, "type": "temporal"}, "x2": {"datum": 1772227680000}, "y": {"datum": 1.62026}, "y2": {"datum": 1.61006}}
},
{
"data": {"values": [{}]},
"mark": {"type": "point", "shape": "M-1,0.5L0,-0.5L1,0.5", "filled": false, "size": 64, "stroke": "#131722", "strokeWidth": 1.5, "opacity": 1},
"encoding": {"x": {"datum": 1772192880000, "type": "temporal"}, "y": {"datum": 1.61516}}
},
{
"data": {"values": [{}]},
"mark": {"type": "rect", "fill": "#2a2e39", "cornerRadius": 4},
"encoding": {"x": {"datum": 1772159280000, "type": "temporal"}, "x2": {"datum": 1772322480000}, "y": {"datum": 1.64679}, "y2": {"datum": 1.63454}}
},
{
"data": {"values": [{}]},
"mark": {"type": "point", "shape": "triangle-up", "filled": true, "size": 40, "color": "#2a2e39", "opacity": 1},
"encoding": {"x": {"datum": 1772176080000, "type": "temporal"}, "y": {"datum": 1.64755}}
},
{
"data": {"values": [{}]},
"mark": {"type": "text", "text": "1 minute", "align": "center", "baseline": "alphabetic", "fontSize": 13, "color": "#ffffff"},
"encoding": {"x": {"datum": 1772243280000, "type": "temporal"}, "y": {"datum": 1.63812}}
},
{
"data": {"values": [{}]},
"mark": {"type": "rect", "fill": "#F23645", "cornerRadius": 2},
"encoding": {"x": {"datum": 1776030480000, "type": "temporal"}, "x2": {"datum": 1776150480000}, "y": {"datum": 1.3499}, "y2": {"datum": 1.3405}}
},
{
"data": {"values": [{}]},
"mark": {"type": "text", "text": "1.3452", "align": "center", "baseline": "middle", "fontSize": 12, "color": "#ffffff"},
"encoding": {"x": {"datum": 1776094080000, "type": "temporal"}, "y": {"datum": 1.3452}}
},
{
"data": {"values": [{}]},
"mark": {"type": "rect", "fill": "#f05a61", "cornerRadius": 2},
"encoding": {"x": {"datum": 1776030480000, "type": "temporal"}, "x2": {"datum": 1776131280000}, "y": {"datum": 1.24577}, "y2": {"datum": 1.2371}}
},
{
"data": {"values": [{}]},
"mark": {"type": "text", "text": "3.4M", "align": "center", "baseline": "middle", "fontSize": 12, "color": "#ffffff"},
"encoding": {"x": {"datum": 1776080880000, "type": "temporal"}, "y": {"datum": 1.24143}}
},
{
"data": {"values": [{}]},
"mark": {"type": "point", "shape": "M-1,0C-0.5,-0.75,0.5,-0.75,1,0C0.5,0.75,-0.5,0.75,-1,0Z", "filled": false, "size": 196, "stroke": "#131722", "strokeWidth": 1.2, "opacity": 1},
"encoding": {"x": {"datum": 1776097680000, "type": "temporal"}, "y": {"datum": 1.22995}}
},
{
"data": {"values": [{}]},
"mark": {"type": "point", "shape": "circle", "filled": false, "size": 14, "stroke": "#131722", "strokeWidth": 1.2, "opacity": 1},
"encoding": {"x": {"datum": 1776097680000, "type": "temporal"}, "y": {"datum": 1.22995}}
},
{
"data": {"values": [{}]},
"mark": {"type": "point", "shape": "circle", "filled": true, "size": 908, "fill": "#ffffff", "stroke": "#e0e3eb", "strokeWidth": 1, "opacity": 1},
"encoding": {"x": {"datum": 1772208960000, "type": "temporal"}, "y": {"datum": 1.25241}}
},
{
"data": {"values": [{}]},
"mark": {"type": "text", "text": "TV", "align": "center", "baseline": "middle", "fontSize": 13, "fontWeight": 900, "color": "#131722"},
"encoding": {"x": {"datum": 1772208960000, "type": "temporal"}, "y": {"datum": 1.25241}}
}
]
}
],
"resolve": {"scale": {"y": "independent"}}
}
